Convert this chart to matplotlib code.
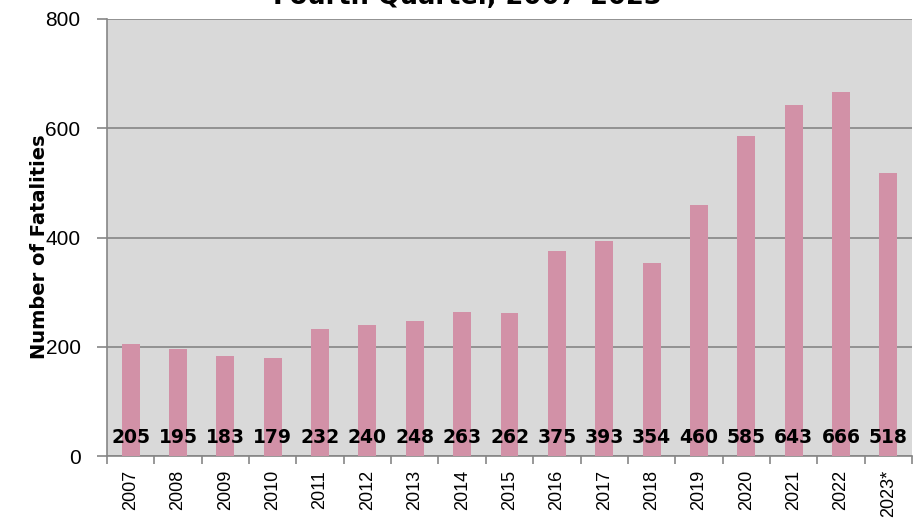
import numpy as np
import matplotlib.pyplot as plt

# Fatalities per year (fourth quarter)
years = ["2007", "2008", "2009", "2010", "2011", "2012", "2013", "2014", "2015",
         "2016", "2017", "2018", "2019", "2020", "2021", "2022", "2023*"]
fatalities = [205, 195, 183, 179, 232, 240, 248, 263, 262,
              375, 393, 354, 460, 585, 643, 666, 518]

fig = plt.figure(figsize=(9.22, 5.21), dpi=100)
ax = fig.add_axes([107 / 922, 1 - 456 / 521, (912 - 107) / 922, (456 - 19) / 521])
ax.set_facecolor("#D9D9D9")

x = np.arange(len(years))
ax.bar(x, fatalities, width=0.38, color="#D291A7", zorder=3)

# value labels along the bottom of the plot
for xi, v in zip(x, fatalities):
    ax.text(xi, 33, str(v), ha="center", va="center", fontsize=13.5,
            fontweight="bold", family="DejaVu Sans", zorder=4)

ax.set_xlim(-0.5, len(years) - 0.5)
ax.set_ylim(0, 800)
ax.set_yticks([0, 200, 400, 600, 800])
ax.yaxis.grid(True, color="#868686", linewidth=1.2, zorder=1)

ax.set_xticks(x)
ax.set_xticklabels(years, rotation=90, fontsize=13, family="Liberation Sans")
ax.set_xticks(np.arange(-0.5, len(years), 1), minor=True)
ax.tick_params(axis="x", which="major", length=0, pad=10)
ax.tick_params(axis="x", which="minor", length=6, color="#868686", width=1.2)
ax.tick_params(axis="y", length=7, color="#868686", width=1.2, labelsize=15, pad=12)
for lab in ax.get_yticklabels():
    lab.set_family("Liberation Sans")

for side in ["top", "right"]:
    ax.spines[side].set_visible(False)
for side in ["left", "bottom"]:
    ax.spines[side].set_color("#868686")
    ax.spines[side].set_linewidth(1.2)

ax.set_ylabel("Number of Fatalities", fontsize=14, fontweight="bold")
ax.yaxis.set_label_coords(-0.072, 0.48)

fig.text(467 / 922, 1 - 4 / 521, "Fourth Quarter, 2007\u20132023", ha="center",
         va="baseline", fontsize=18.5, fontweight="bold")

plt.savefig("out.png", dpi=100)
